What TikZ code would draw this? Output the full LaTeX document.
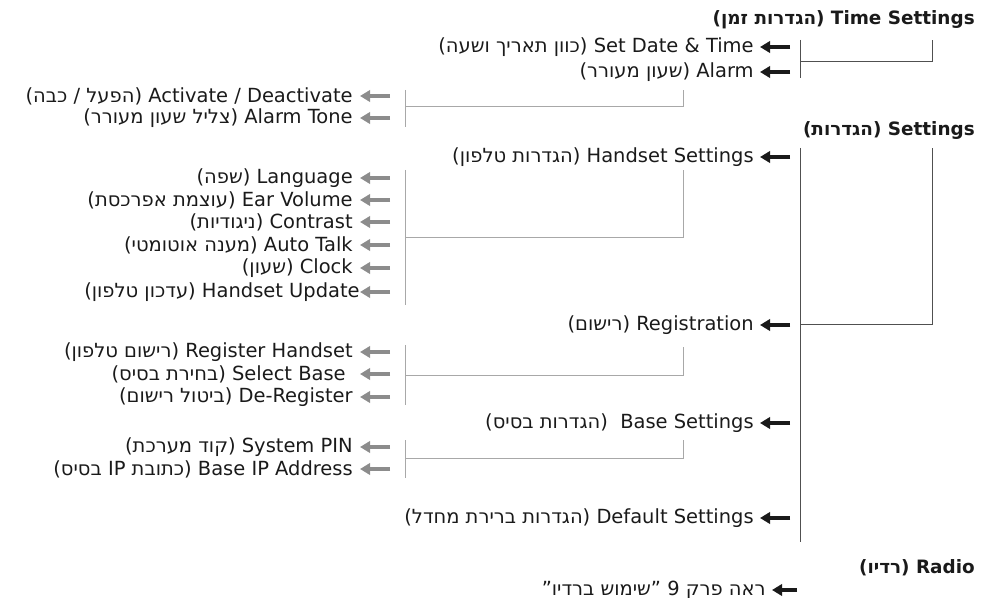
\documentclass[tikz,border=0pt]{standalone}
\usepackage{fontspec}
\setmainfont{DejaVu Sans}
\newfontfamily\heb[Script=Hebrew]{DejaVu Sans}
\TeXXeTstate=1
\usetikzlibrary{arrows.meta}
\definecolor{ink}{HTML}{1A1A1A}
\definecolor{bline}{HTML}{505050}
\definecolor{gline}{HTML}{A8A8A8}
\definecolor{garrow}{HTML}{8C8C8C}
\tikzset{
  item/.style={font=\fontsize{14.6}{17}\selectfont, inner sep=0pt, anchor=east, text=ink},
  ttl/.style={font=\fontsize{13.8}{16}\selectfont\bfseries, inner sep=0pt, anchor=east, text=ink},
  barr/.style={draw=ink, line width=3pt, -{Triangle[length=7.5pt,width=8.5pt]}, shorten >=4.5pt},
  garr/.style={draw=garrow, line width=3pt, -{Triangle[length=7.5pt,width=8.5pt]}, shorten >=4.5pt},
  bbr/.style={draw=bline, line width=0.75pt},
  gbr/.style={draw=gline, line width=0.75pt},
}
\begin{document}
\begin{tikzpicture}[x=0.75pt,y=-0.75pt]
\useasboundingbox (0,0) rectangle (981,598);
% titles
\node[ttl] (tTime) at (975,20) {\beginR\beginL Time Settings\endL{} {\heb(הגדרות זמן)}\endR};
\node[ttl] (tSet) at (975,130) {\beginR Settings {\heb(הגדרות)}\endR};
\node[ttl] (tRadio) at (975,568) {\beginR Radio {\heb(רדיו)}\endR};
% black level items
\node[item] (sdt) at (754,47) {\beginR\beginL Set Date \& Time\endL{} {\heb(כוון תאריך ושעה)}\endR};
\node[item] (alm) at (754,72) {\beginR Alarm {\heb(שעון מעורר)}\endR};
\node[item] (hss) at (754,157) {\beginR\beginL Handset Settings\endL{} {\heb(הגדרות טלפון)}\endR};
\node[item] (reg) at (754,325) {\beginR Registration {\heb(רישום)}\endR};
\node[item] (bss) at (754,423) {\beginR\beginL Base Settings\endL{} \ {\heb(הגדרות בסיס)}\endR};
\node[item] (dfs) at (754,518) {\beginR\beginL Default Settings\endL{} {\heb(הגדרות ברירת מחדל)}\endR};
\coordinate (a1) at (790,47);
\coordinate (a2) at (790,72);
\coordinate (a3) at (790,157);
\coordinate (a4) at (790,325);
\coordinate (a5) at (790,423);
\coordinate (a6) at (790,518);
\draw[barr] (a1) -- (sdt.east);
\draw[barr] (a2) -- (alm.east);
\draw[barr] (a3) -- (hss.east);
\draw[barr] (a4) -- (reg.east);
\draw[barr] (a5) -- (bss.east);
\draw[barr] (a6) -- (dfs.east);
% radio line
\node[item] (rad) at (766,590) {\heb\beginR ראה פרק 9 ”שימוש ברדיו”\endR};
\coordinate (ra) at (797,590);
\draw[barr] (ra) -- (rad.east);
% gray level items
\node[item] (act) at (353,96) {\beginR\beginL Activate / Deactivate\endL{} {\heb(הפעל / כבה)}\endR};
\node[item] (atn) at (353,118) {\beginR\beginL Alarm Tone\endL{} {\heb(צליל שעון מעורר)}\endR};
\node[item] (lng) at (353,178) {\beginR Language {\heb(שפה)}\endR};
\node[item] (ear) at (353,200) {\beginR\beginL Ear Volume\endL{} {\heb(עוצמת אפרכסת)}\endR};
\node[item] (con) at (353,222) {\beginR Contrast {\heb(ניגודיות)}\endR};
\node[item] (atk) at (353,245) {\beginR\beginL Auto Talk\endL{} {\heb(מענה אוטומטי)}\endR};
\node[item] (clk) at (353,268) {\beginR Clock {\heb(שעון)}\endR};
\node[item] (hsu) at (360,292) {\beginR\beginL Handset Update\endL{} {\heb(עדכון טלפון)}\endR};
\node[item] (rgh) at (353,352) {\beginR\beginL Register Handset\endL{} {\heb(רישום טלפון)}\endR};
\node[item] (slb) at (346,374) {\beginR\beginL Select Base\endL{} {\heb(בחירת בסיס)}\endR};
\node[item] (der) at (353,397) {\beginR De-Register {\heb(ביטול רישום)}\endR};
\node[item] (pin) at (353,447) {\beginR\beginL System PIN\endL{} {\heb(קוד מערכת)}\endR};
\node[item] (bip) at (353,469) {\beginR\beginL Base IP Address\endL{} {\heb(כתובת IP בסיס)}\endR};
\foreach \n/\y in {act/96,atn/118,lng/178,ear/200,con/222,atk/245,clk/268,rgh/352,slb/374,der/397,pin/447,bip/469}{
  \coordinate (g\n) at (390,\y);
  \draw[garr, shorten >=0pt] (g\n) -- (360,\y);
}
\coordinate (ghsu) at (390,292);
\draw[garr, shorten >=0pt] (ghsu) -- (hsu.east);
% black brackets
\draw[bbr] (800,40) -- (800,78);
\draw[bbr] (800,62) -- (932,62) -- (932,40);
\draw[bbr] (800,148) -- (800,542);
\draw[bbr] (800,325) -- (932,325) -- (932,148);
% gray brackets
\draw[gbr] (405,90) -- (405,127);
\draw[gbr] (405,107) -- (683,107) -- (683,90);
\draw[gbr] (405,170) -- (405,305);
\draw[gbr] (405,238) -- (683,238) -- (683,170);
\draw[gbr] (405,345) -- (405,405);
\draw[gbr] (405,375) -- (683,375) -- (683,347);
\draw[gbr] (405,440) -- (405,478);
\draw[gbr] (405,458) -- (683,458) -- (683,440);
\end{tikzpicture}
\end{document}
